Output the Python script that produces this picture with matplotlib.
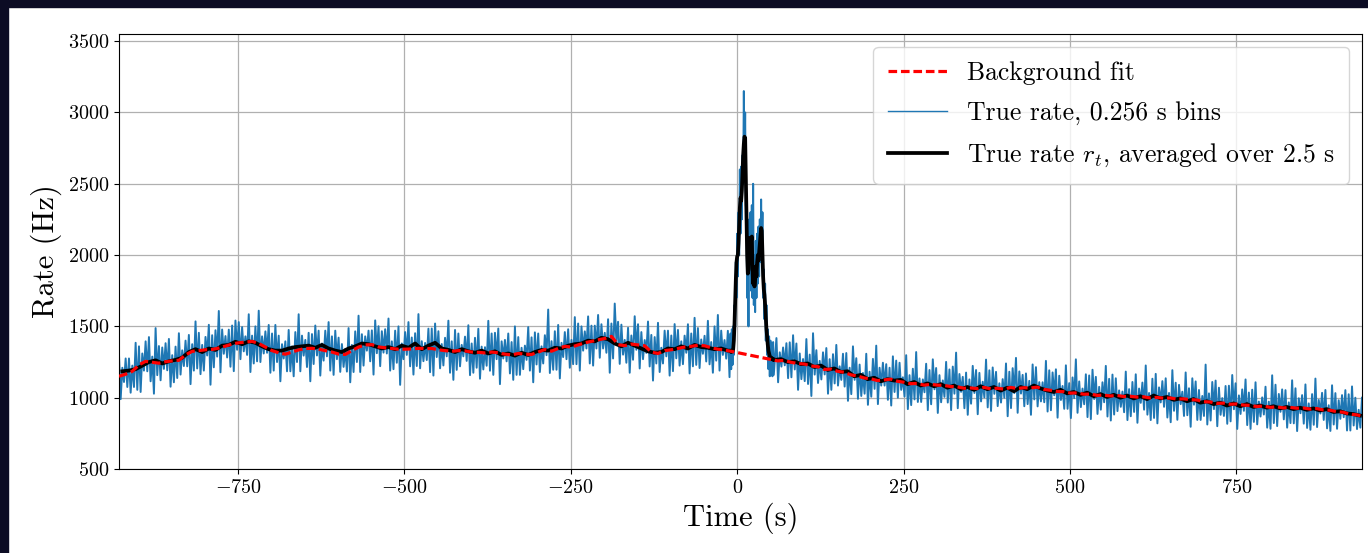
import numpy as np
import matplotlib
matplotlib.use("Agg")
import matplotlib.pyplot as plt
from matplotlib.patches import Rectangle

plt.rcParams['font.family'] = 'serif'
plt.rcParams['font.serif'] = ['cmr10']
plt.rcParams['mathtext.fontset'] = 'cm'
plt.rcParams['axes.formatter.use_mathtext'] = True

# ---- data (rates in Hz) ----
# 0.256 s binned rate, spike tips: every 2.5 s outside the burst (one row = 10 s),
# every 1 s inside it
blue_pre = [  # starts at t = -929 s
    1300, 990, 1210, 1110,   1275, 1075, 1275, 1035,   1225, 1075, 1385, 1055,
    1360, 1040, 1310, 1190,  1395, 1185, 1425, 1115,   1288, 1028, 1488, 1158,
    1362, 1122, 1352, 1202,  1382, 1192, 1412, 1077,   1298, 1108, 1358, 1138,
    1452, 1162, 1332, 1222,  1400, 1220, 1440, 1095,   1375, 1190, 1535, 1205,
    1455, 1165, 1370, 1190,  1426, 1296, 1511, 1091,   1438, 1213, 1473, 1288,
    1608, 1178, 1478, 1308,  1432, 1282, 1477, 1217,   1506, 1186, 1541, 1336,
    1530, 1270, 1495, 1325,  1430, 1300, 1585, 1180,   1435, 1240, 1500, 1255,
    1610, 1250, 1430, 1310,  1465, 1315, 1510, 1175,   1450, 1190, 1510, 1250,
    1435, 1115, 1375, 1275,  1395, 1185, 1475, 1185,   1360, 1150, 1460, 1250,
    1585, 1185, 1435, 1295,  1405, 1215, 1455, 1115,   1446, 1236, 1506, 1296,
    1470, 1155, 1380, 1260,  1470, 1290, 1530, 1190,   1430, 1160, 1470, 1270,
    1421, 1181, 1376, 1216,  1343, 1183, 1488, 1108,   1370, 1180, 1465, 1250,
    1575, 1180, 1445, 1225,  1430, 1330, 1470, 1255,   1472, 1162, 1542, 1312,
    1501, 1221, 1466, 1316,  1480, 1310, 1555, 1190,   1395, 1200, 1470, 1245,
    1500, 1090, 1380, 1270,  1460, 1300, 1530, 1220,   1422, 1162, 1452, 1222,
    1586, 1206, 1396, 1256,  1384, 1264, 1484, 1179,   1485, 1155, 1520, 1285,
    1466, 1206, 1376, 1226,  1420, 1290, 1540, 1175,   1395, 1125, 1475, 1195,
    1450, 1220, 1370, 1290,  1428, 1258, 1508, 1158,   1380, 1175, 1420, 1210,
    1483, 1133, 1358, 1198,  1354, 1224, 1539, 1189,   1450, 1160, 1455, 1270,
    1485, 1095, 1395, 1275,  1405, 1255, 1450, 1170,   1390, 1125, 1500, 1160,
    1425, 1160, 1350, 1200,  1365, 1265, 1495, 1190,   1423, 1108, 1458, 1233,
    1450, 1180, 1360, 1240,  1438, 1298, 1618, 1173,   1396, 1196, 1466, 1196,
    1510, 1135, 1385, 1285,  1460, 1270, 1480, 1210,   1405, 1235, 1565, 1235,
    1520, 1190, 1500, 1330,  1465, 1345, 1570, 1240,   1505, 1225, 1505, 1345,
    1580, 1280, 1515, 1345,  1455, 1315, 1550, 1175,   1520, 1275, 1660, 1390,
    1532, 1237, 1512, 1302,  1405, 1245, 1490, 1175,   1436, 1266, 1571, 1336,
    1515, 1205, 1460, 1270,  1404, 1314, 1534, 1219,   1440, 1120, 1425, 1240,
    1525, 1180, 1350, 1240,  1470, 1290, 1470, 1155,   1436, 1186, 1516, 1276,
    1475, 1225, 1395, 1235,  1435, 1315, 1515, 1170,   1450, 1220, 1560, 1230,
    1488, 1208, 1408, 1308,  1434, 1254, 1539, 1234,   1390, 1175, 1500, 1260,
    1580, 1190, 1470, 1300,  1404, 1274, 1469, 1144,
]
blue_burst = [  # starts at t = -10 s, step 1 s
    1450, 1200, 1480, 1230, 1500, 1300, 1650, 1500, 1950, 1700,
    2150, 1850, 2300, 2000, 2600, 2150, 2620, 2250, 2700, 2500,
    3150, 2600, 3000, 2350, 2300, 1700, 2150, 1500, 2250, 1900,
    2300, 1750, 2350, 1700, 2500, 1650, 2000, 1600, 2100, 1700,
    2150, 1800, 2200, 1850, 2250, 1950, 2390, 2000, 2300, 1700,
    1900, 1550, 1800, 1400, 1650, 1300, 1480, 1200, 1430, 1150,
    1400, 1180, 1380, 1150, 1390, 1160,
]
blue_post = [  # starts at t = 59 s
    1418, 1108, 1318, 1218,  1352, 1227, 1382, 1137,   1388, 1143, 1438, 1198,
    1380, 1055, 1310, 1130,  1271, 1116, 1411, 1096,   1302, 1012, 1452, 1162,
    1333, 1103, 1258, 1128,  1318, 1163, 1348, 1028,   1270, 1055, 1305, 1100,
    1370, 1085, 1220, 1125,  1308, 1078, 1313, 978,    1210, 1025, 1360, 1125,
    1277, 992, 1232, 1012,   1173, 1028, 1308, 950,    1182, 1007, 1272, 1062,
    1365, 955, 1210, 1085,   1245, 1085, 1235, 985,    1210, 945, 1290, 1040,
    1260, 1000, 1245, 1055,  1143, 1008, 1298, 920,    1158, 948, 1203, 988,
    1320, 970, 1135, 970,    1128, 1038, 1238, 913,    1194, 954, 1269, 1059,
    1208, 893, 1158, 968,    1121, 1006, 1251, 966,    1198, 913, 1218, 1028,
    1316, 926, 1166, 1041,   1146, 926, 1176, 880,     1128, 958, 1223, 1033,
    1194, 884, 1174, 974,    1112, 1002, 1267, 932,    1192, 907, 1212, 1027,
    1181, 941, 1101, 966,    1130, 1000, 1240, 870,    1182, 927, 1207, 1032,
    1279, 894, 1184, 1029,   1160, 940, 1170, 955,     1118, 880, 1233, 988,
    1214, 939, 1109, 974,    1108, 968, 1258, 903,     1192, 912, 1177, 1017,
    1199, 860, 1154, 984,    1082, 922, 1227, 922,     1102, 857, 1142, 997,
    1269, 894, 1114, 934,    1064, 954, 1164, 864,     1156, 850, 1196, 991,
    1146, 886, 1076, 916,    1108, 968, 1223, 868,     1132, 840, 1162, 882,
    1136, 906, 1051, 936,    1043, 898, 1183, 843,     1060, 870, 1110, 900,
    1164, 824, 1064, 964,    1106, 916, 1226, 881,     1033, 843, 1133, 858,
    1167, 820, 1072, 967,    1116, 936, 1136, 861,     1033, 828, 1193, 908,
    1105, 845, 1090, 955,    1042, 872, 1177, 877,     1066, 796, 1136, 951,
    1114, 844, 1054, 844,    1012, 872, 1232, 812,     1030, 840, 1110, 920,
    1120, 800, 1070, 880,    997, 872, 1082, 817,      1084, 834, 1159, 919,
    1101, 781, 1016, 886,    1058, 908, 1128, 808,     1036, 781, 1056, 830,
    1108, 813, 973, 868,     1002, 882, 1077, 790,     972, 782, 1157, 822,
    1091, 801, 1026, 901,    1058, 848, 1053, 790,     967, 822, 1122, 820,
    1066, 766, 996, 891,     1018, 818, 1093, 788,     960, 775, 1025, 810,
    1134, 794, 984, 889,     1034, 844, 1054, 785,     947, 767, 1087, 812,
    1032, 782, 982, 852,     1018, 863, 1053, 770,     1024, 770, 1079, 805,
    1000, 780, 915, 790,     1000,
]

# rate averaged over 2.5 s
black_pre = [  # starts at t = -924 s, step 10 s
    1185, 1190, 1200, 1225, 1250, 1262, 1240, 1255, 1265, 1280,
    1320, 1340, 1320, 1345, 1335, 1365, 1370, 1392, 1375, 1395,
    1385, 1360, 1340, 1330, 1330, 1345, 1355, 1360, 1365, 1350,
    1370, 1345, 1330, 1320, 1345, 1360, 1380, 1375, 1360, 1345,
    1355, 1340, 1365, 1350, 1380, 1340, 1365, 1385, 1345, 1335,
    1320, 1340, 1325, 1315, 1330, 1310, 1325, 1300, 1310, 1295,
    1315, 1300, 1320, 1335, 1330, 1350, 1345, 1365, 1375, 1380,
    1400, 1395, 1420, 1410, 1380, 1360, 1385, 1365, 1345, 1325,
    1315, 1320, 1345, 1340, 1360, 1345, 1370, 1355, 1350, 1340,
    1345, 1330,
]
black_burst = [  # starts at t = -10 s, step 1 s
    1330, 1320, 1330, 1325, 1340, 1400, 1520, 1680, 1830, 1950,
    1990, 2000, 2080, 2200, 2330, 2400, 2380, 2450, 2580, 2700,
    2780, 2830, 2820, 2550, 2250, 2000, 1870, 1900, 2080, 2120,
    1950, 2100, 2130, 1900, 1800, 1880, 1780, 1830, 1920, 1850,
    1950, 2000, 1960, 2020, 2080, 2150, 2190, 2170, 2000, 1850,
    1760, 1720, 1650, 1560, 1480, 1420, 1370, 1330, 1310, 1290,
    1285, 1280, 1270, 1275, 1265, 1270,
]
black_post = [  # starts at t = 56 s, step 10 s
    1265, 1270, 1250, 1255, 1235, 1240, 1215, 1225, 1195, 1205,
    1180, 1185, 1150, 1160, 1130, 1140, 1115, 1130, 1120, 1125,
    1095, 1110, 1085, 1100, 1080, 1095, 1070, 1085, 1060, 1075,
    1055, 1080, 1060, 1075, 1050, 1070, 1045, 1075, 1060, 1085,
    1065, 1050, 1040, 1055, 1030, 1040, 1020, 1035, 1010, 1025,
    1005, 1020, 1000, 1015, 995, 1010, 990, 1015, 995, 1005,
    985, 995, 975, 990, 965, 975, 955, 965, 945, 960,
    940, 955, 935, 945, 930, 940, 925, 935, 920, 930,
    915, 925, 910, 920, 900, 905, 890, 885, 875,
]

# background fit (straight across the burst)
red_pre = [  # starts at t = -929 s, step 10 s
    1150, 1165, 1185, 1230, 1255, 1248, 1242, 1252, 1258, 1262,
    1300, 1325, 1330, 1336, 1338, 1348, 1362, 1376, 1385, 1390,
    1395, 1380, 1355, 1330, 1315, 1305, 1320, 1335, 1345, 1346,
    1340, 1330, 1320, 1306, 1303, 1330, 1355, 1370, 1372, 1356,
    1350, 1345, 1340, 1340, 1342, 1346, 1344, 1345, 1336, 1330,
    1325, 1330, 1328, 1320, 1318, 1314, 1320, 1315, 1305, 1300,
    1310, 1305, 1303, 1320, 1338, 1326, 1345, 1360, 1355, 1370,
    1385, 1395, 1405, 1415, 1430, 1372, 1365, 1376, 1370, 1364,
    1320, 1310, 1330, 1336, 1345, 1355, 1360, 1368, 1364, 1350,
    1340, 1334, 1325,
]
red_post = [  # starts at t = 61 s, step 10 s
    1258, 1262, 1248, 1240, 1236, 1222, 1218, 1198, 1200, 1185,
    1178, 1160, 1152, 1138, 1132, 1120, 1125, 1130, 1115, 1108,
    1098, 1100, 1088, 1094, 1088, 1086, 1078, 1076, 1066, 1068,
    1064, 1072, 1062, 1066, 1060, 1072, 1064, 1070, 1068, 1074,
    1058, 1052, 1044, 1042, 1032, 1034, 1024, 1026, 1016, 1018,
    1012, 1016, 1008, 1010, 1004, 1006, 998, 1002, 996, 998,
    990, 992, 986, 984, 972, 970, 960, 962, 954, 956,
    948, 946, 938, 942, 932, 936, 928, 932, 926, 928,
    920, 924, 914, 912, 902, 898, 884, 880, 868,
]


def seg(start, step, vals):
    return start + step * np.arange(len(vals))


t_blue = np.concatenate([seg(-929, 2.5, blue_pre), seg(-10, 1, blue_burst), seg(59, 2.5, blue_post)])
r_blue = np.concatenate([blue_pre, blue_burst, blue_post])
t_black = np.concatenate([seg(-924, 10, black_pre), seg(-10, 1, black_burst), seg(56, 10, black_post)])
r_black = np.concatenate([black_pre, black_burst, black_post])
t_red = np.concatenate([seg(-929, 10, red_pre), seg(61, 10, red_post)])
r_red = np.concatenate([red_pre, red_post])

fig = plt.figure(figsize=(13.68, 5.53), dpi=100)
fig.patch.set_facecolor('white')
# dark page edge visible at top and left of the screenshot
fig.patches.append(Rectangle((0, 1 - 7 / 553), 1, 7 / 553, transform=fig.transFigure,
                             color='#0c0c24', zorder=-10))
fig.patches.append(Rectangle((0, 0), 8 / 1368, 1, transform=fig.transFigure,
                             color='#0c0c24', zorder=-10))

ax = fig.add_axes([119 / 1368, 84 / 553, (1362 - 119) / 1368, (469 - 34) / 553])

ax.plot(t_red, r_red, '--', color='red', lw=2.3, dashes=(2.7, 1.2), zorder=4, label='Background fit')
ax.plot(t_blue, r_blue, color='#1f77b4', lw=1.4, zorder=2, label='True rate, 0.256 s bins')
ax.plot(t_black, r_black, color='black', lw=2.7, zorder=3,
        label=r'True rate $r_t$, averaged over 2.5 s')

ax.set_xlim(-929, 939)
ax.set_ylim(500, 3550)
ax.set_xticks([-750, -500, -250, 0, 250, 500, 750])
ax.set_yticks([500, 1000, 1500, 2000, 2500, 3000, 3500])
ax.tick_params(labelsize=14.5)
ax.grid(True, color='#b0b0b0', lw=0.9)
ax.set_axisbelow(True)

ax.set_xlabel('Time (s)', fontsize=22)
ax.set_ylabel('Rate (Hz)', fontsize=22)
leg = ax.legend(loc='upper right', fontsize=18.5, labelspacing=0.65, handlelength=2.3, borderpad=0.55)
leg.get_lines()[1].set_linewidth(1.0)

fig.savefig('out.png', dpi=100)
